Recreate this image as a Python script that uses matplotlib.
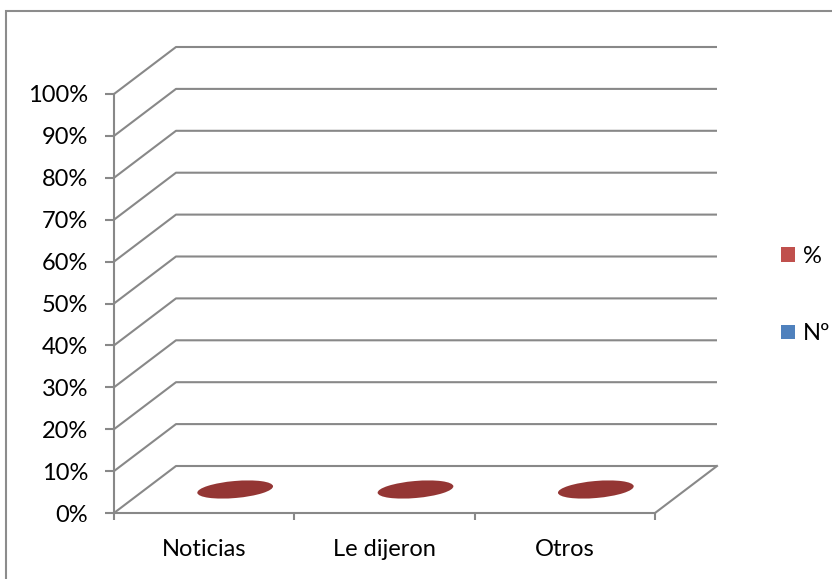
import matplotlib
matplotlib.use('Agg')
import matplotlib.pyplot as plt
from matplotlib.patches import Ellipse, Rectangle, Patch
import matplotlib.transforms as mtrans

categories = ['Noticias', 'Le dijeron', 'Otros']
pct_values = [0, 0, 0]
n_values = [0, 0, 0]
y_ticks = list(range(0, 101, 10))
y_tick_labels = [f'{t}%' for t in y_ticks]
series_names = ['%', 'Nº']
series_colors = ['#C0504D', '#4F81BD']
top_color = '#943634'
grid_color = '#888888'

W, H = 832, 579
plt.rcParams['font.family'] = ['Lato', 'DejaVu Sans']
fig = plt.figure(figsize=(W / 100, H / 100), dpi=100)
fig.patches.append(Rectangle((6 / W, -0.1), 1.2, (H - 11) / H + 0.1,
                             transform=fig.transFigure, fill=False,
                             ec='#8c8c8c', lw=1.5))

left, right, bottom_px, top_px = 114, 655, 513, 94
ax = fig.add_axes([left / W, (H - bottom_px) / H, (right - left) / W,
                   (bottom_px - top_px) / H])
n = len(categories)
ax.set_xlim(-0.5, n - 0.5)
ax.set_ylim(0, 100)
ax.patch.set_visible(False)

# depth offset (data units)
dx = 62 / ((right - left) / n)
dy = 47 / ((bottom_px - top_px) / 100)

lw = 1.5
for t in y_ticks:
    ax.plot([-0.5, -0.5 + dx, n - 0.5 + dx], [t, t + dy, t + dy],
            color=grid_color, lw=lw, clip_on=False, solid_capstyle='butt')
# floor
ax.plot([n - 0.5, n - 0.5 + dx], [0, dy], color=grid_color, lw=lw, clip_on=False)

for s in ['top', 'right']:
    ax.spines[s].set_visible(False)
for s in ['left', 'bottom']:
    ax.spines[s].set_color(grid_color)
    ax.spines[s].set_linewidth(lw)

fs = 17
ax.set_yticks(y_ticks)
ax.set_yticklabels(y_tick_labels)
ax.set_xticks([i - 0.5 for i in range(n + 1)])
ax.set_xticklabels([''] * (n + 1))
ax.set_xticks(list(range(n)), minor=True)
ax.set_xticklabels(categories, minor=True)
ax.tick_params(axis='y', length=6.5, width=lw, color=grid_color, pad=12,
               labelsize=fs, labelcolor='black')
ax.tick_params(axis='x', which='major', length=5, width=lw, color=grid_color)
ax.tick_params(axis='x', which='minor', length=0, pad=18.5, labelsize=fs,
               labelcolor='black')

# zero-height cylinders (tops only)
for i, v in enumerate(pct_values):
    tr = fig.dpi_scale_trans + mtrans.ScaledTranslation(i + dx / 2, v + dy / 2, ax.transData)
    e = Ellipse((0, 0), width=0.76, height=0.17, angle=5, transform=tr,
                facecolor=top_color, edgecolor='none', clip_on=False)
    ax.add_artist(e)

handles = [Patch(facecolor=c, edgecolor='none') for c in series_colors]
fig.legend(handles, series_names, loc='center left',
           bbox_to_anchor=(769 / W, (H - 295) / H), frameon=False,
           fontsize=fs, handlelength=0.58, handleheight=0.58,
           handletextpad=0.35, labelspacing=2.4, borderpad=0)

fig.savefig('out.png', dpi=100)
